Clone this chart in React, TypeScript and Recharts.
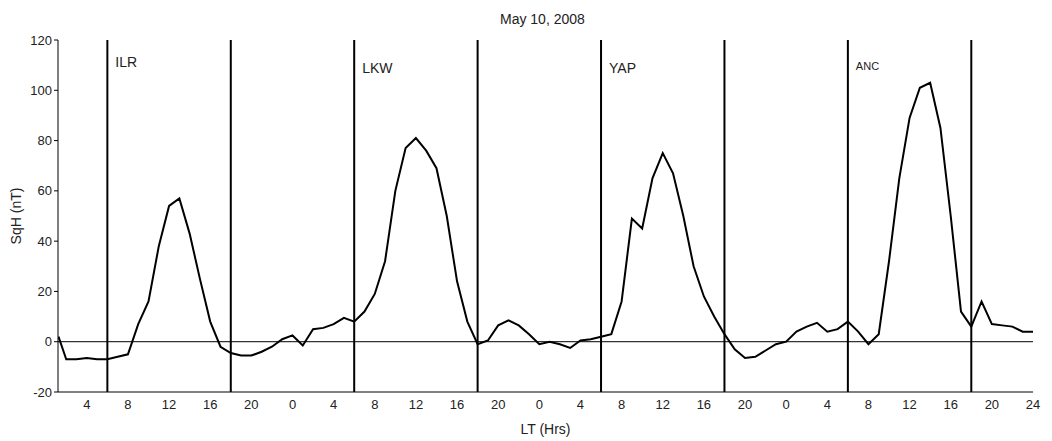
import { LineChart, Line, XAxis, YAxis, ReferenceLine } from 'recharts';

// continuous local time (hours) over the four stations
const hours = [1.25, 2, 3, 4, 5, 6, 7, 8, 9, 10, 11, 12, 13, 14, 15, 16, 17, 18, 19, 20, 21, 22, 23, 24,
  25, 26, 27, 28, 29, 30, 31, 32, 33, 34, 35, 36, 37, 38, 39, 40, 41, 42, 43, 44, 45, 46, 47, 48,
  49, 50, 51, 52, 53, 54, 55, 56, 57, 58, 59, 60, 61, 62, 63, 64, 65, 66, 67, 68, 69, 70, 71, 72,
  73, 74, 75, 76, 77, 78, 79, 80, 81, 82, 83, 84, 85, 86, 87, 88, 89, 90, 91, 92, 93, 94, 95, 96];

const sqH = [2, -7, -7, -6.5, -7, -7, -6, -5, 7, 16, 38, 54, 57, 43, 25, 8, -2, -4.5, -5.5, -5.5, -4, -2, 1, 2.5,
  -1.5, 5, 5.5, 7, 9.5, 8, 12, 19, 32, 60, 77, 81, 76, 69, 50, 24, 8, -1, 0.5, 6.5, 8.5, 6.5, 3, -1,
  0, -1, -2.5, 0.5, 1, 2, 3, 16, 49, 45, 65, 75, 67, 50, 30, 18, 10, 3, -3, -6.5, -6, -3.5, -1, 0,
  4, 6, 7.5, 4, 5, 8, 4, -1, 3, 32, 65, 89, 101, 103, 85, 50, 12, 6, 16, 7, 6.5, 6, 4, 4];

const xTicks = [4, 8, 12, 16, 20, 24, 28, 32, 36, 40, 44, 48, 52, 56, 60, 64, 68, 72, 76, 80, 84, 88, 92, 96];
const yTicks = [-20, 0, 20, 40, 60, 80, 100, 120];
const boundaries = [6, 18, 30, 42, 54, 66, 78, 90];
const stations = [
  { at: 6, name: 'ILR', size: 14, dy: 12 },
  { at: 30, name: 'LKW', size: 14, dy: 18 },
  { at: 54, name: 'YAP', size: 14, dy: 18 },
  { at: 78, name: 'ANC', size: 11, dy: 17 },
];

const data = hours.map((t, i) => ({ t, v: sqH[i] }));
const font = { fontFamily: '"Liberation Sans", Arial, sans-serif', fontSize: 13, fill: '#222' };

export default function App() {
  return (
    <div style={{ position: 'relative', width: 1044, height: 433, fontFamily: font.fontFamily }}>
      <div style={{ position: 'absolute', left: 492, top: 3, fontSize: 14, color: '#222' }}>May 10, 2008</div>
      <LineChart width={1044} height={433} data={data} margin={{ top: 32, right: 19, left: 10, bottom: 29 }}>
        <XAxis
          dataKey="t"
          type="number"
          domain={[1.2, 96]}
          ticks={xTicks}
          allowDataOverflow
          tick={font}
          tickLine={false}
          axisLine={{ stroke: '#000' }}
          tickFormatter={(v: number) => (v === 96 ? '24' : String(v % 24))}
          label={{ value: 'LT (Hrs)', position: 'insideBottom', offset: -22, style: { ...font, fontSize: 14 } }}
          height={20}
        />
        <XAxis xAxisId="top" orientation="top" type="number" domain={[1.2, 96]} tick={false} tickLine={false} axisLine={{ stroke: '#000' }} height={0} />
        <YAxis
          domain={[-20, 120]}
          ticks={yTicks}
          tick={font}
          tickSize={4}
          axisLine={{ stroke: '#000' }}
          tickLine={{ stroke: '#000' }}
          width={40}
          label={{ value: 'SqH (nT)', angle: -90, position: 'insideLeft', offset: -2, style: { ...font, fontSize: 14, textAnchor: 'middle' } }}
        />
        <YAxis yAxisId="right" orientation="right" tick={false} tickLine={false} axisLine={{ stroke: '#000' }} width={0} />
        <ReferenceLine y={0} stroke="#000" strokeWidth={1} />
        {boundaries.map((b) => (
          <ReferenceLine key={b} x={b} stroke="#000" strokeWidth={2} />
        ))}
        {stations.map((s) => (
          <ReferenceLine
            key={s.name}
            x={s.at}
            stroke="none"
            label={{ value: s.name, position: 'insideTopLeft', dx: 3, dy: s.dy, style: { ...font, fontSize: s.size } }}
          />
        ))}
        <Line type="linear" dataKey="v" stroke="#000" strokeWidth={2} dot={false} isAnimationActive={false} />
      </LineChart>
    </div>
  );
}
